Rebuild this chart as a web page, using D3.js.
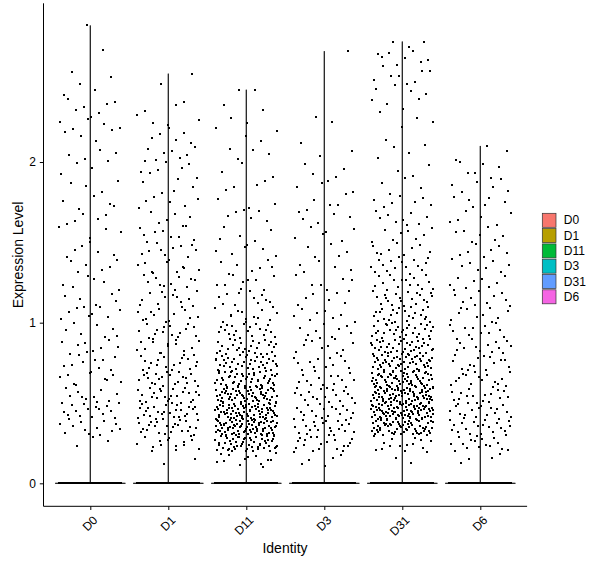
<!DOCTYPE html>
<html lang="en">
<head>
<meta charset="utf-8">
<title>Expression Level by Identity</title>
<script src="https://d3js.org/d3.v7.min.js"></script>
<style>
  body { margin: 0; background: #fff; }
  text { font-family: "Liberation Sans", Arial, sans-serif; fill: #000; }
  .axis path, .axis line { stroke: #000; }
</style>
</head>
<body>
<script>
// groups and their ggplot hue colours
const groups = ["D0", "D1", "D11", "D3", "D31", "D6"];
const colors = ["#F8766D", "#B79F00", "#00BA38", "#00BFC4", "#619CFF", "#F564E3"];

// y axis ticks
const yTicks = [0, 1, 2];

// lower edge of each 0.1-wide expression bin
const binLow = [0.1, 0.2, 0.3, 0.4, 0.5, 0.6, 0.7, 0.8, 0.9, 1.0,
                1.1, 1.2, 1.3, 1.4, 1.5, 1.6, 1.7, 1.8, 1.9, 2.0,
                2.1, 2.2, 2.3, 2.4, 2.5, 2.6, 2.7, 2.8];

// number of cells in each bin, per group
const countsD0  = [0, 3, 13, 15, 11, 10, 9, 9, 7, 8, 6, 6, 6, 5, 5, 5, 5, 4, 3, 5, 4, 6, 6, 3, 2, 1, 0, 0];
const countsD1  = [2, 16, 24, 26, 24, 21, 18, 16, 15, 13, 12, 11, 10, 10, 9, 6, 6, 5, 7, 8, 5, 5, 3, 1, 0, 0, 0, 0];
const countsD11 = [14, 55, 75, 72, 60, 48, 38, 28, 20, 14, 11, 9, 7, 6, 5, 5, 4, 4, 3, 4, 3, 3, 2, 1, 0, 0, 0, 0];
const countsD3  = [6, 19, 21, 19, 17, 14, 12, 10, 9, 8, 7, 6, 5, 5, 6, 5, 5, 4, 4, 2, 1, 2, 0, 0, 0, 0, 0, 0];
const countsD31 = [3, 14, 62, 82, 74, 60, 50, 40, 30, 24, 20, 16, 14, 11, 8, 9, 7, 4, 3, 3, 2, 3, 5, 5, 7, 8, 2, 0];
const countsD6  = [4, 17, 19, 19, 17, 15, 14, 13, 12, 10, 10, 9, 8, 7, 7, 6, 6, 6, 6, 2, 0, 0, 0, 0, 0, 0, 0, 0];
const binCounts = [countsD0, countsD1, countsD11, countsD3, countsD31, countsD6];

// cells with zero expression, and the highest single value, per group
const zeroCounts = [400, 400, 400, 400, 400, 400];
const maxValues  = [2.85, 2.55, 2.45, 2.69, 2.75, 2.10];

const w = 600;
const h = 568;

const svg = d3.select("body")
  .append("svg")
  .attr("width", w)
  .attr("height", h);

const xScale = d3.scalePoint()
  .domain(groups)
  .range([43.5, 527.1])
  .padding(0.6);

const yScale = d3.scaleLinear()
  .domain([-0.143, 2.988])
  .range([506.3, 3.3]);

const step = xScale.step();

// deterministic low-discrepancy sequence used for the jitter
function halton(i, base) {
  let f = 1, r = 0;
  while (i > 0) {
    f = f / base;
    r = r + f * (i % base);
    i = Math.floor(i / base);
  }
  return r;
}

// expand counts into cells
const cells = [];
groups.forEach((g, gi) => {
  let k = gi * 997 + 1;
  for (let z = 0; z < zeroCounts[gi]; z++, k++) {
    cells.push({ group: g, value: 0, jit: halton(k, 2) * 2 - 1 });
  }
  binCounts[gi].forEach((n, b) => {
    for (let j = 0; j < n; j++, k++) {
      const v = Math.min(binLow[b] + 0.1 * halton(k, 3), maxValues[gi]);
      cells.push({ group: g, value: v, jit: halton(k, 2) * 2 - 1 });
    }
  });
  cells.push({ group: g, value: maxValues[gi], jit: halton(k, 2) * 2 - 1 });
});

// violins: with nearly all mass at 0 they collapse to a flat bar and a thin spine
const violinHalf = 0.45 * step;
const violins = groups.map((g, gi) => {
  const vals = cells.filter(c => c.group === g).map(c => c.value);
  return { group: g, color: colors[gi], max: d3.max(vals), min: d3.min(vals) };
});

svg.append("g")
  .selectAll("path")
  .data(violins)
  .enter()
  .append("path")
  .attr("d", d => {
    const cx = xScale(d.group);
    const y0 = yScale(d.min);
    return "M" + cx + "," + yScale(d.max) +
      "L" + cx + "," + (y0 - 0.4) +
      "L" + (cx - violinHalf) + "," + y0 +
      "L" + (cx + violinHalf) + "," + y0 +
      "L" + cx + "," + (y0 - 0.4) + "Z";
  })
  .attr("fill", d => d.color)
  .attr("stroke", "#1a1a1a")
  .attr("stroke-width", 0.9);

// jittered points
const ps = 2;
svg.append("g")
  .attr("shape-rendering", "crispEdges")
  .selectAll("rect")
  .data(cells)
  .enter()
  .append("rect")
  .attr("x", d => xScale(d.group) + d.jit * 0.4 * step - ps / 2)
  .attr("y", d => yScale(d.value) - ps / 2)
  .attr("width", ps)
  .attr("height", ps)
  .attr("fill", "#000");

// axes
const xAxis = d3.axisBottom(xScale).tickSize(3.7).tickSizeOuter(0);
const yAxis = d3.axisLeft(yScale)
  .tickValues(yTicks)
  .tickFormat(d3.format("d"))
  .tickSize(3.7)
  .tickPadding(3.8)
  .tickSizeOuter(0);

const gx = svg.append("g")
  .attr("class", "axis")
  .attr("transform", "translate(0," + yScale.range()[0] + ")")
  .call(xAxis);
gx.select(".domain").attr("d", "M" + xScale.range()[0] + ",0H" + xScale.range()[1]);
gx.selectAll("text")
  .attr("x", 0)
  .attr("y", 0)
  .attr("dy", "0.71em")
  .attr("text-anchor", "end")
  .attr("transform", "translate(1.5,8.6) rotate(-45)")
  .style("font-size", "12px")
  .style("font-family", "'Liberation Sans', Arial, sans-serif")
  .attr("fill", "#000");

const gy = svg.append("g")
  .attr("class", "axis")
  .attr("transform", "translate(" + xScale.range()[0] + ",0)")
  .call(yAxis);
gy.select(".domain").attr("d", "M0," + yScale.range()[0] + "V" + yScale.range()[1]);
gy.selectAll("text")
  .style("font-size", "12px")
  .style("font-family", "'Liberation Sans', Arial, sans-serif")
  .attr("fill", "#000");

svg.selectAll(".axis path, .axis line").attr("stroke", "#000").attr("stroke-width", 1);

// axis titles
svg.append("text")
  .attr("x", 285)
  .attr("y", 553)
  .attr("text-anchor", "middle")
  .style("font-size", "14px")
  .text("Identity");

svg.append("text")
  .attr("transform", "translate(22.5,255) rotate(-90)")
  .attr("text-anchor", "middle")
  .style("font-size", "14px")
  .text("Expression Level");

// legend
const legend = svg.append("g")
  .attr("transform", "translate(542.3,213.3)");

const item = legend.selectAll("g")
  .data(groups)
  .enter()
  .append("g")
  .attr("transform", (d, i) => "translate(0," + i * 15.3 + ")");

item.append("rect")
  .attr("width", 13.7)
  .attr("height", 14)
  .attr("fill", (d, i) => colors[i])
  .attr("stroke", "#333")
  .attr("stroke-width", 0.7);

item.append("text")
  .attr("x", 21.5)
  .attr("y", 7)
  .attr("dy", "0.35em")
  .style("font-size", "12px")
  .text(d => d);
</script>
</body>
</html>
